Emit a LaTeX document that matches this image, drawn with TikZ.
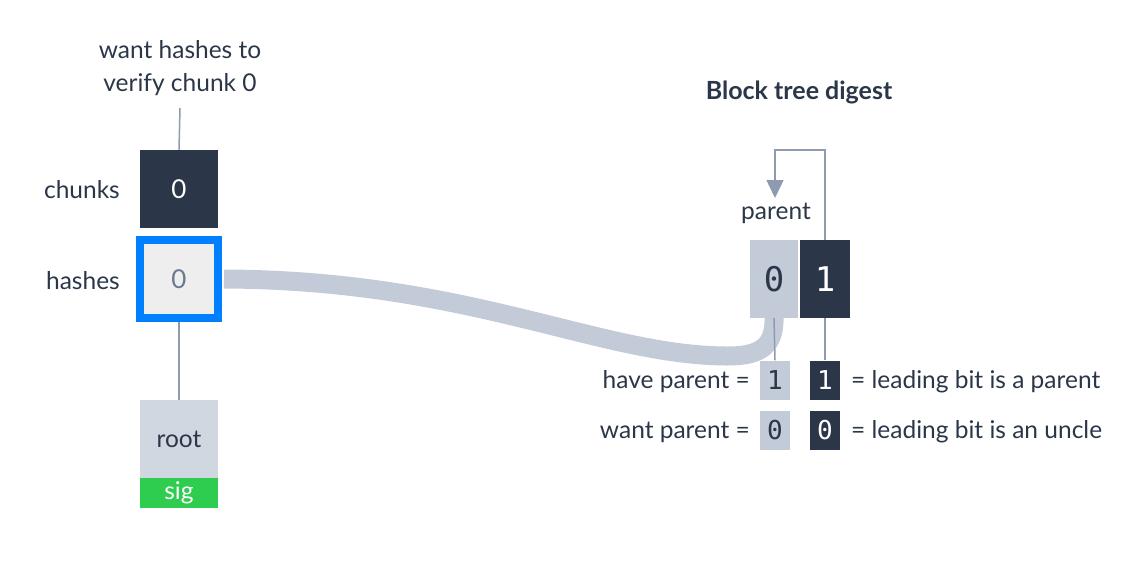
\documentclass[tikz,border=0pt]{standalone}
\usepackage{fontspec}
\setmainfont{Lato}
\newfontfamily\monofont{DejaVu Sans Mono}
\usetikzlibrary{arrows.meta,backgrounds}
\definecolor{ink}{HTML}{2B3648}
\definecolor{lightbox}{HTML}{C3CBD8}
\definecolor{rootbox}{HTML}{D1D7E0}
\definecolor{hashfill}{HTML}{EEEEEE}
\definecolor{hashblue}{HTML}{0080FF}
\definecolor{siggreen}{HTML}{2ECC4F}
\definecolor{connline}{HTML}{8E9AAF}
\definecolor{zerogray}{HTML}{6B7A90}
\tikzset{
  lbl/.style={text=ink,font=\fontsize{24.5}{28}\selectfont,inner sep=0pt},
  cell/.style={minimum width=78pt,minimum height=78pt,inner sep=0pt,font=\fontsize{26}{30}\selectfont},
  bitbox/.style={minimum width=48pt,minimum height=78pt,inner sep=0pt,font=\monofont\fontsize{34}{38}\selectfont},
  smallbit/.style={minimum width=30pt,minimum height=39pt,inner sep=0pt,font=\monofont\fontsize{26}{29}\selectfont},
  conn/.style={draw=connline,line width=1.5pt},
}
\begin{document}
\begin{tikzpicture}[x=1pt,y=-1pt]
\useasboundingbox (0,0) rectangle (1140,560);
% left column
\node[lbl,align=center,font=\fontsize{24.5}{33}\selectfont] (want) at (180,68) {want hashes to\\verify chunk 0};
\node[cell,fill=ink,text=white] (chunk) at (179,189) {0};
\node[lbl,anchor=east] (chunkslbl) at (120,190) {chunks};
\node[cell,fill=hashfill,draw=hashblue,line width=8pt,text=zerogray] (hash) at (179,279) {0};
\node[lbl,anchor=east] (hasheslbl) at (120,281) {hashes};
\node[cell,fill=rootbox,text=ink,font=\fontsize{24.5}{28}\selectfont] (root) at (179,439) {root};
\node[cell,minimum height=30pt,fill=siggreen,text=white,font=\fontsize{24.5}{28}\selectfont] (sig) at (179,493) {sig};
\coordinate (wanttail) at (180,108);
\draw[conn] (wanttail) -- (chunk.north);
\draw[conn] (hash.south) -- (root.north);
% right side
\node[lbl,font=\bfseries\fontsize{25}{28}\selectfont] (title) at (799,92) {Block tree digest};
\node[bitbox,fill=lightbox,text=ink] (b0) at (774,279) {0};
\node[bitbox,minimum width=50pt,fill=ink,text=white] (b1) at (825,279) {1};
\node[lbl] (par) at (776,213) {parent};
\coordinate (loop) at (775,150);
\coordinate (tip) at (775,198);
\draw[conn,-{Triangle[width=17pt,length=18pt]}] (b1.north) |- (loop) -- (tip);
\node[smallbit,fill=lightbox,text=ink] (h0) at (775,380) {1};
\node[smallbit,fill=ink,text=white] (h1) at (825,380) {1};
\node[smallbit,fill=lightbox,text=ink] (w0) at (775,430) {0};
\node[smallbit,fill=ink,text=white] (w1) at (825,430) {0};
\node[lbl,anchor=east] (havelbl) at (750,382) {have parent =};
\node[lbl,anchor=east] (wantlbl) at (750,432) {want parent =};
\node[lbl,anchor=west] (haveexpl) at (851,382) {= leading bit is a parent};
\node[lbl,anchor=west] (wantexpl) at (851,432) {= leading bit is an uncle};
\begin{pgfonlayer}{background}
\draw[draw=lightbox,line width=19pt] ([xshift=2pt]hash.east) .. controls (470,280) and (600,356) .. (728,356) .. controls (762,356) and (775,345) .. ([yshift=2pt]b0.south);
\end{pgfonlayer}
\draw[conn] (b0.south) -- (h0.north);
\draw[conn] (b1.south) -- (h1.north);
\end{tikzpicture}
\end{document}
